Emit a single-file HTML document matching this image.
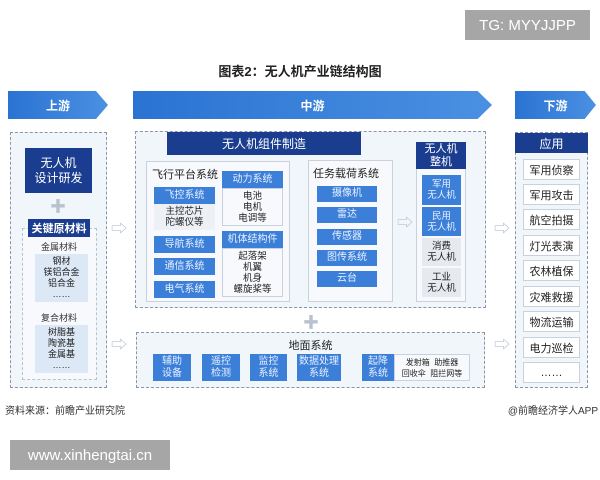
<!DOCTYPE html>
<html><head><meta charset="utf-8"><style>
*{margin:0;padding:0;box-sizing:border-box}
body{width:600px;height:480px;background:#fff;position:relative;overflow:hidden;font-family:"Liberation Sans","Noto Sans CJK SC",sans-serif}
div{position:absolute}
.c{display:flex;align-items:center;justify-content:center;text-align:center}
.dk{background:#1b3d8f;color:#fff}
.bl{background:#3b7fd8;color:#e8f0ff;font-size:10px;line-height:12px}
.lt{background:#dde8f6;color:#222;font-size:10px;line-height:12px}
.dash{border:1.3px dashed #8a96a8;background:#f1f6fb}
.sol{border:1px solid #c8d2de;background:#f7f9fc}
.wh{background:#fff;border:1px solid #c8d2de;color:#222;font-size:11px}
.ban{height:28px;top:91px;background:linear-gradient(90deg,#2b73d2,#4a90e2);color:#fff;font-size:12px;font-weight:bold}
.arr{color:#b8c2cf;font-size:16px}
</style></head><body>
<div class="c" style="left:465px;top:10px;width:125px;height:30px;background:#a6a6a6;color:#fff;font-size:15px">TG: MYYJJPP</div>
<div class="c" style="left:0;top:60px;width:600px;height:20px;font-size:13px;font-weight:bold;color:#222">图表2：无人机产业链结构图</div>

<div class="c ban" style="left:8px;width:100px;clip-path:polygon(0 0,88% 0,100% 50%,88% 100%,0 100%)">上游</div>
<div class="c ban" style="left:133px;width:359px;clip-path:polygon(0 0,96% 0,100% 50%,96% 100%,0 100%)">中游</div>
<div class="c ban" style="left:515px;width:81px;clip-path:polygon(0 0,86% 0,100% 50%,86% 100%,0 100%)">下游</div>

<!-- left -->
<div class="dash" style="left:10px;top:132px;width:97px;height:256px"></div>
<div class="c dk" style="left:25px;top:148px;width:67px;height:45px;font-size:12px;line-height:15px">无人机<br>设计研发</div>
<div class="c arr" style="left:48px;top:196px;width:20px;height:18px">✚</div>
<div style="left:22px;top:228px;width:75px;height:152px;border:1px dashed #b8c2cf;background:#f7f9fc"></div>
<div class="c dk" style="left:28px;top:219px;width:62px;height:18px;font-size:11px;font-weight:bold">关键原材料</div>
<div class="c" style="left:30px;top:239px;width:58px;height:14px;font-size:9px;color:#333;background:#f7f9fc">金属材料</div>
<div class="c lt" style="left:35px;top:254px;width:53px;height:48px;font-size:9px;line-height:11px">钢材<br>镁铝合金<br>铝合金<br>……</div>
<div class="c" style="left:30px;top:310px;width:58px;height:14px;font-size:9px;color:#333;background:#f7f9fc">复合材料</div>
<div class="c lt" style="left:35px;top:325px;width:53px;height:48px;font-size:9px;line-height:11px">树脂基<br>陶瓷基<br>金属基<br>……</div>

<div class="c arr" style="left:108px;top:218px;width:22px;height:18px">⇨</div>
<div class="c arr" style="left:108px;top:334px;width:22px;height:18px">⇨</div>

<!-- middle -->
<div class="dash" style="left:135px;top:131px;width:351px;height:177px"></div>
<div class="c dk" style="left:167px;top:132px;width:194px;height:23px;font-size:12px">无人机组件制造</div>
<div class="sol" style="left:146px;top:161px;width:144px;height:141px"></div>
<div style="left:152px;top:166px;font-size:11px;color:#222">飞行平台系统</div>
<div class="c bl" style="left:154px;top:187px;width:61px;height:17px">飞控系统</div>
<div class="c lt" style="left:154px;top:204px;width:61px;height:26px;background:#edf1f6;font-size:9.5px;line-height:11px">主控芯片<br>陀螺仪等</div>
<div class="c bl" style="left:154px;top:236px;width:61px;height:17px">导航系统</div>
<div class="c bl" style="left:154px;top:258px;width:61px;height:17px">通信系统</div>
<div class="c bl" style="left:154px;top:281px;width:61px;height:17px">电气系统</div>
<div class="c bl" style="left:222px;top:171px;width:61px;height:17px">动力系统</div>
<div class="c lt" style="left:222px;top:188px;width:61px;height:38px;background:#f7f9fc;border:1px solid #c8d2de;font-size:9.5px;line-height:11px">电池<br>电机<br>电调等</div>
<div class="c bl" style="left:222px;top:231px;width:61px;height:17px">机体结构件</div>
<div class="c lt" style="left:222px;top:248px;width:61px;height:49px;background:#f7f9fc;border:1px solid #c8d2de;font-size:9.5px;line-height:11px">起落架<br>机翼<br>机身<br>螺旋桨等</div>

<div class="sol" style="left:308px;top:160px;width:85px;height:142px"></div>
<div style="left:313px;top:165px;font-size:11px;color:#222">任务载荷系统</div>
<div class="c bl" style="left:317px;top:186px;width:60px;height:16px">摄像机</div>
<div class="c bl" style="left:317px;top:207px;width:60px;height:16px">雷达</div>
<div class="c bl" style="left:317px;top:229px;width:60px;height:16px">传感器</div>
<div class="c bl" style="left:317px;top:250px;width:60px;height:16px">图传系统</div>
<div class="c bl" style="left:317px;top:271px;width:60px;height:16px">云台</div>
<div class="c arr" style="left:395px;top:212px;width:20px;height:18px">⇨</div>

<div class="sol" style="left:416px;top:142px;width:50px;height:160px"></div>
<div class="c dk" style="left:416px;top:142px;width:50px;height:27px;font-size:11px;line-height:13px">无人机<br>整机</div>
<div class="c bl" style="left:422px;top:175px;width:39px;height:30px;font-size:9.5px;line-height:11px">军用<br>无人机</div>
<div class="c bl" style="left:422px;top:207px;width:39px;height:29px;font-size:9.5px;line-height:11px">民用<br>无人机</div>
<div class="c lt" style="left:422px;top:238px;width:39px;height:28px;background:#e6e9ee;font-size:9.5px;line-height:11px">消费<br>无人机</div>
<div class="c lt" style="left:422px;top:268px;width:39px;height:29px;background:#e6e9ee;font-size:9.5px;line-height:11px">工业<br>无人机</div>

<div class="c arr" style="left:301px;top:312px;width:20px;height:18px">✚</div>
<div class="c arr" style="left:491px;top:218px;width:22px;height:18px">⇨</div>
<div class="c arr" style="left:491px;top:334px;width:22px;height:18px">⇨</div>

<!-- ground -->
<div class="dash" style="left:136px;top:332px;width:349px;height:56px"></div>
<div class="c" style="left:136px;top:337px;width:349px;height:16px;font-size:11px;color:#222">地面系统</div>
<div class="c bl" style="left:153px;top:354px;width:38px;height:27px">辅助<br>设备</div>
<div class="c bl" style="left:202px;top:354px;width:38px;height:27px">遥控<br>检测</div>
<div class="c bl" style="left:250px;top:354px;width:37px;height:27px">监控<br>系统</div>
<div class="c bl" style="left:297px;top:354px;width:44px;height:27px">数据处理<br>系统</div>
<div class="c bl" style="left:362px;top:354px;width:32px;height:27px">起降<br>系统</div>
<div class="c" style="left:394px;top:354px;width:76px;height:27px;background:#f7f9fc;border:1px solid #c8d2de;font-size:8px;line-height:11px;color:#222">发射箱&nbsp;&nbsp;助推器<br>回收伞&nbsp;&nbsp;阻拦网等</div>

<!-- right -->
<div class="dash" style="left:515px;top:132px;width:73px;height:256px"></div>
<div class="c dk" style="left:515px;top:133px;width:73px;height:20px;font-size:12px">应用</div>
<div class="c wh" style="left:523px;top:159px;width:57px;height:21px">军用侦察</div>
<div class="c wh" style="left:523px;top:184px;width:57px;height:21px">军用攻击</div>
<div class="c wh" style="left:523px;top:209px;width:57px;height:21px">航空拍摄</div>
<div class="c wh" style="left:523px;top:235px;width:57px;height:21px">灯光表演</div>
<div class="c wh" style="left:523px;top:260px;width:57px;height:21px">农林植保</div>
<div class="c wh" style="left:523px;top:286px;width:57px;height:21px">灾难救援</div>
<div class="c wh" style="left:523px;top:311px;width:57px;height:21px">物流运输</div>
<div class="c wh" style="left:523px;top:337px;width:57px;height:21px">电力巡检</div>
<div class="c wh" style="left:523px;top:362px;width:57px;height:21px">……</div>

<div style="left:5px;top:402px;font-size:10px;color:#333">资料来源：前瞻产业研究院</div>
<div style="right:2px;top:402px;font-size:10px;color:#333">@前瞻经济学人APP</div>
<div class="c" style="left:10px;top:440px;width:160px;height:30px;background:#a6a6a6;color:#fff;font-size:15px">www.xinhengtai.cn</div>
</body></html>
